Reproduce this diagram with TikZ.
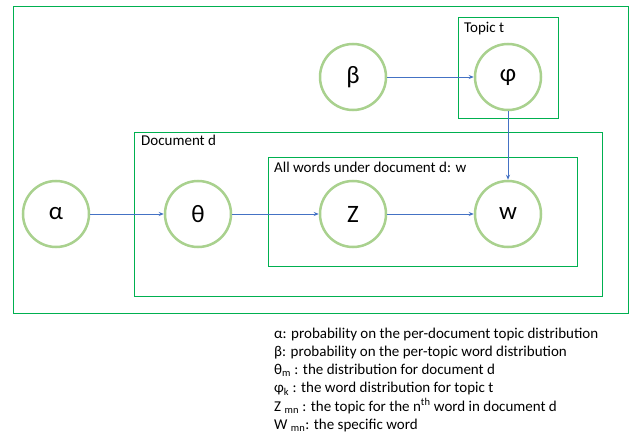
\documentclass[tikz,border=0pt]{standalone}
\usepackage{fontspec}
\setmainfont{Carlito}
\usetikzlibrary{arrows.meta}
\definecolor{boxgreen}{HTML}{00B050}
\definecolor{circgreen}{HTML}{A9D18E}
\definecolor{arrblue}{HTML}{4472C4}
\begin{document}
\begin{tikzpicture}[x=1pt,y=-1pt,
  var/.style={circle,draw=circgreen,line width=2.5pt,minimum size=66pt,inner sep=0pt,font=\fontsize{25}{29}\selectfont},
  plate/.style={draw=boxgreen,line width=0.85pt},
  lbl/.style={anchor=base west,inner sep=0pt,font=\fontsize{15}{18}\selectfont},
  edge/.style={draw=arrblue,line width=0.8pt,-{Stealth[length=5pt,width=4pt]}}]
\useasboundingbox (0,0) rectangle (632,433);
\fill[white] (0,0) rectangle (632,433);
\draw[plate] (13,6) rectangle (628,313);
\draw[plate] (458,17) rectangle (558,118);
\draw[plate] (134,132) rectangle (602,296);
\draw[plate] (268,157) rectangle (577,266);
\node[lbl] (lt) at (464,33) {Topic t};
\node[lbl] (ld) at (141,145.5) {Document d};
\node[lbl] (lw) at (274,172.7) {All words under document d: w};
\node[var] (alpha) at (56,214) {α};
\node[var] (theta) at (198,214) {θ};
\node[var] (z) at (353,214) {Z};
\node[var] (w) at (508,214) {w};
\node[var] (beta) at (353,77) {β};
\node[var] (phi) at (508,77) {φ};
\draw[edge] (alpha) -- (theta);
\draw[edge] (theta) -- (z);
\draw[edge] (z) -- (w);
\draw[edge] (beta) -- (phi);
\draw[edge] (phi) -- (w);
\node[lbl] (l1) at (274,338) {α: probability on the per-document topic distribution};
\node[lbl] (l2) at (274,356.3) {β: probability on the per-topic word distribution};
\node[lbl] (l3) at (274,374.6) {θ\textsubscript{m} : the distribution for document d};
\node[lbl] (l4) at (274,392.9) {φ\textsubscript{k} : the word distribution for topic t};
\node[lbl] (l5) at (274,411.2) {Z \textsubscript{mn} : the topic for the n\textsuperscript{th} word in document d};
\node[lbl] (l6) at (274,429.5) {W \textsubscript{mn}: the specific word};
\end{tikzpicture}
\end{document}
